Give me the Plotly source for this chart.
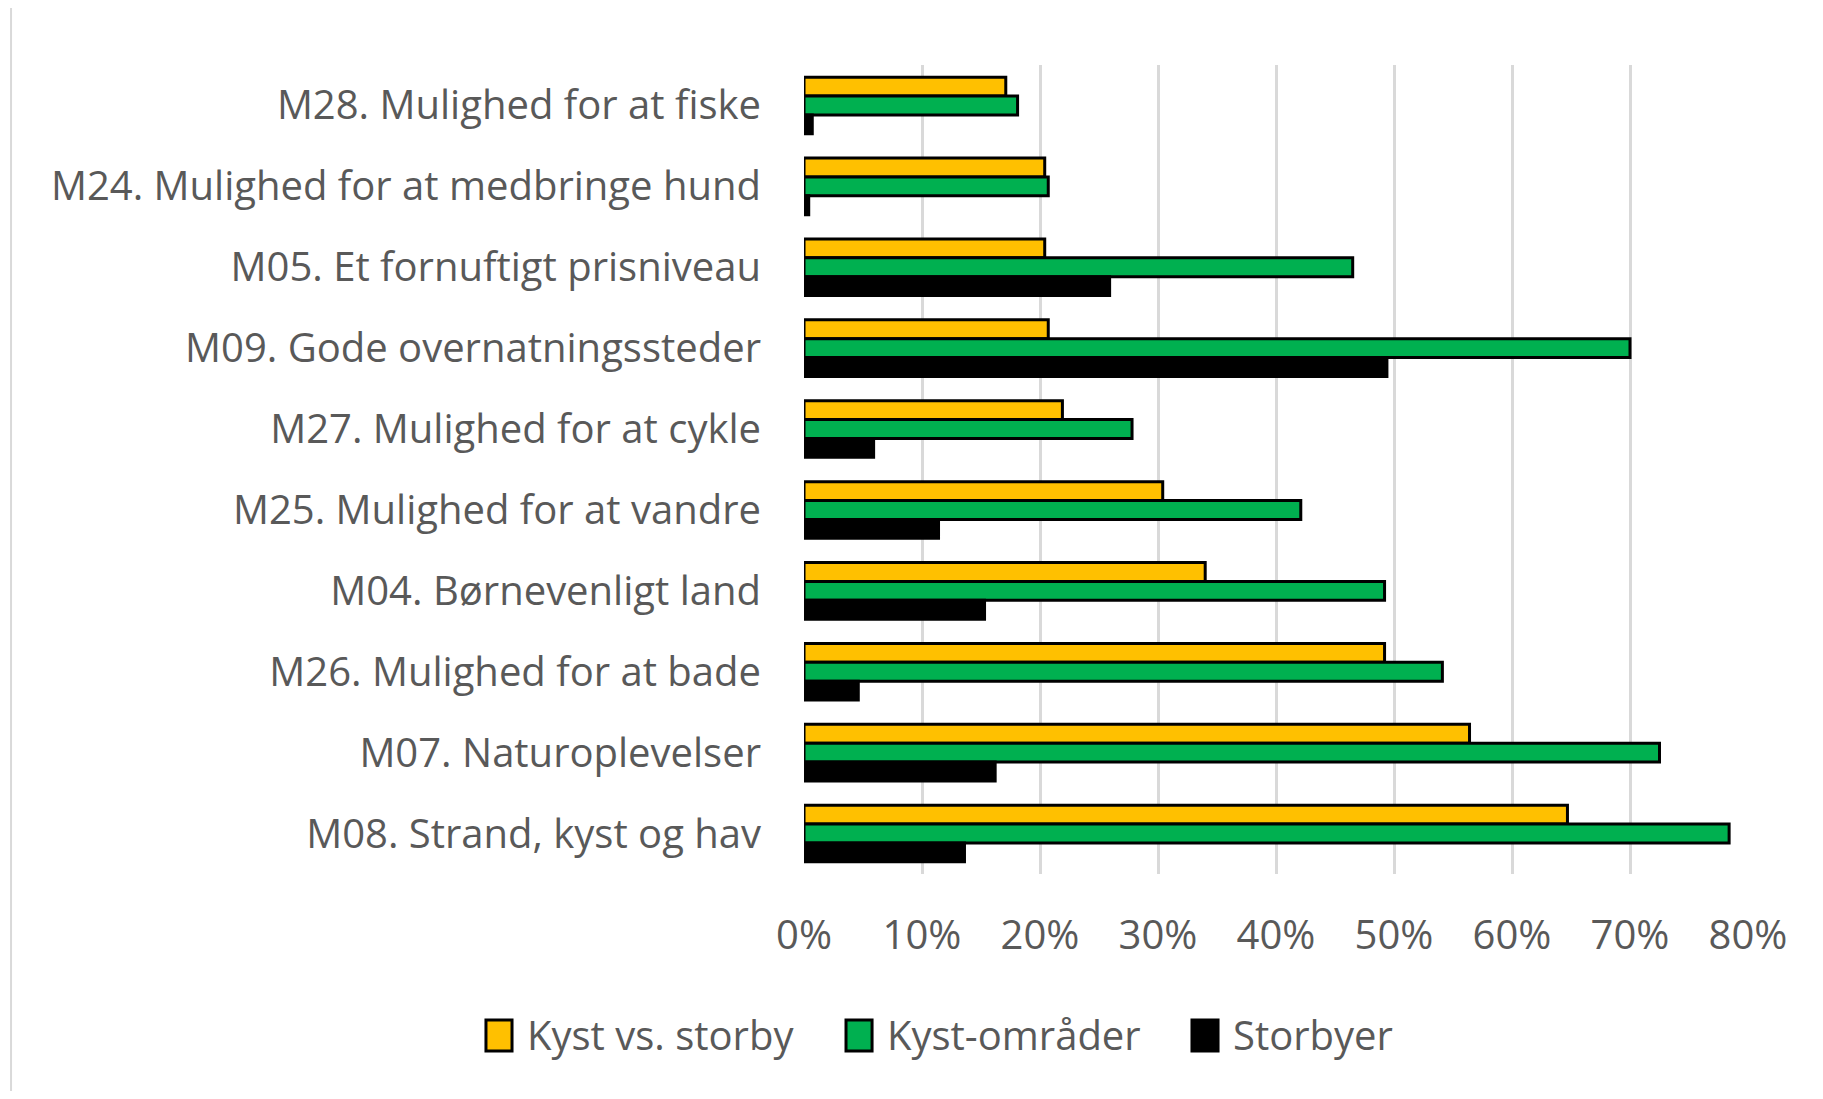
import plotly.graph_objects as go

categories = [
    "M28. Mulighed for at fiske",
    "M24. Mulighed for at medbringe hund",
    "M05. Et fornuftigt prisniveau",
    "M09. Gode overnatningssteder",
    "M27. Mulighed for at cykle",
    "M25. Mulighed for at vandre",
    "M04. Børnevenligt land",
    "M26. Mulighed for at bade",
    "M07. Naturoplevelser",
    "M08. Strand, kyst og hav",
]
kyst_vs_storby = [0.171, 0.204, 0.204, 0.207, 0.219, 0.304, 0.340, 0.492, 0.564, 0.647]
kyst_omraader = [0.181, 0.207, 0.465, 0.700, 0.278, 0.421, 0.492, 0.541, 0.725, 0.784]
storbyer = [0.007, 0.004, 0.259, 0.494, 0.059, 0.114, 0.153, 0.046, 0.162, 0.136]
series_names = ["Kyst vs. storby", "Kyst-områder", "Storbyer"]
series_colors = ["#FFC000", "#00B050", "#000000"]
tick_vals = [0, 0.1, 0.2, 0.3, 0.4, 0.5, 0.6, 0.7, 0.8]
tick_text = ["0%", "10%", "20%", "30%", "40%", "50%", "60%", "70%", "80%"]

FONT = "Open Sans"
GRAY = "#595959"
FS = 40

fig = go.Figure()
for name, vals, col in zip(series_names, [kyst_vs_storby, kyst_omraader, storbyer], series_colors):
    fig.add_trace(go.Bar(
        y=categories, x=vals, name=name, orientation="h",
        marker=dict(color=col, line=dict(color="#000000", width=3)),
        hoverinfo="x+y", showlegend=False,
    ))

# manual legend (larger swatches, like the original)
legend_x = [-0.3369, 0.0445, 0.411]
sw_w = 0.0276
shapes = [dict(type="rect", xref="paper", yref="paper", x0=-0.84, x1=1.3, y0=-0.5, y1=1.0717,
               line=dict(color="#d9d9d9", width=2), fillcolor="rgba(0,0,0,0)", layer="below")]
annotations = []
for name, col, lx in zip(series_names, series_colors, legend_x):
    shapes.append(dict(type="rect", xref="paper", yref="paper", x0=lx, x1=lx + sw_w,
                       y0=-0.2188, y1=-0.1805, fillcolor=col,
                       line=dict(color="#000000", width=3)))
    annotations.append(dict(xref="paper", yref="paper", x=lx + sw_w + 0.0138, y=-0.199,
                            xanchor="left", yanchor="middle", text=name, showarrow=False,
                            font=dict(family=FONT, size=FS, color=GRAY)))

fig.update_layout(
    width=1807, height=1083,
    paper_bgcolor="white", plot_bgcolor="white",
    barmode="group", bargap=0.3, bargroupgap=0,
    margin=dict(l=796, r=67, t=57, b=217, autoexpand=False),
    font=dict(family=FONT, color=GRAY, size=FS),
    showlegend=False,
    shapes=shapes, annotations=annotations,
)
fig.update_xaxes(range=[0, 0.8], tickvals=tick_vals, ticktext=tick_text, automargin=False,
                 showgrid=True, gridcolor="#d9d9d9", gridwidth=2.5, zeroline=False,
                 showline=False, ticks="", ticklabelstandoff=34,
                 tickfont=dict(family=FONT, size=FS, color=GRAY))
fig.update_yaxes(autorange="reversed", showgrid=False, showline=False, ticks="", automargin=False,
                 ticklabelstandoff=42, tickfont=dict(family=FONT, size=FS, color=GRAY))

fig.write_html("out.html")
